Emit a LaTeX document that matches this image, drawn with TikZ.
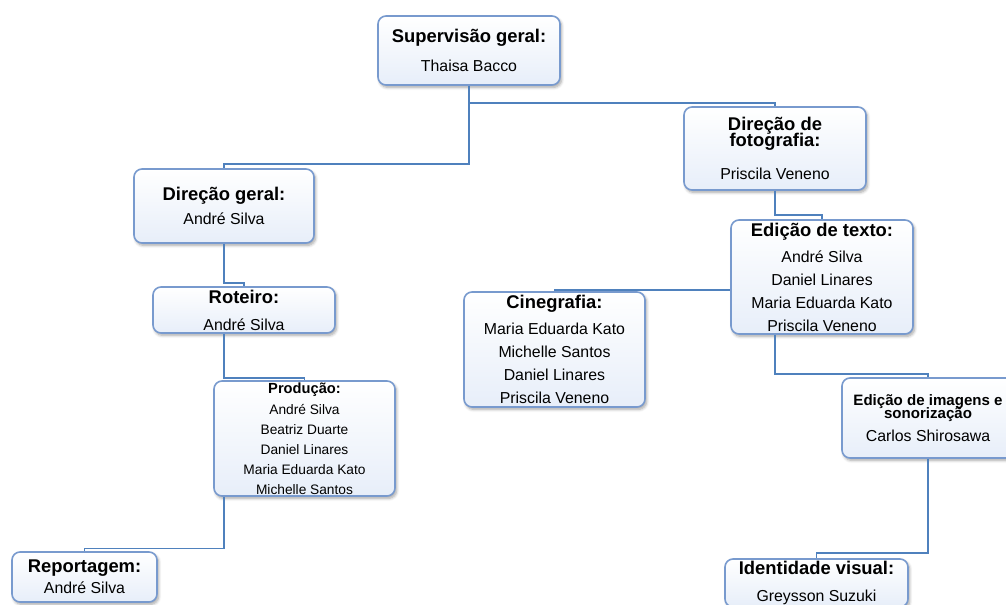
\documentclass[tikz,border=0pt]{standalone}
\usepackage{fontspec}
\setmainfont{Liberation Sans}
\usepackage{tikz}
\usetikzlibrary{positioning}
\usetikzlibrary{shadows.blur}

\definecolor{linkblue}{RGB}{79,129,189}
\definecolor{boxedge}{RGB}{120,154,206}
\definecolor{boxfill}{RGB}{231,238,249}

\newcommand{\hd}[2][13.8]{{\bfseries\fontsize{#1}{#1}\selectfont #2}}

\tikzset{
  orgbox/.style={draw=boxedge, line width=1.2pt, rounded corners=6pt,
    top color=white, bottom color=boxfill, align=center, inner sep=0pt,
    blur shadow={shadow xshift=1.2pt, shadow yshift=-1.8pt, shadow blur steps=6, shadow opacity=35},
    font=\fontsize{11.9}{17.25}\selectfont},
  link/.style={draw=linkblue, line width=1.4pt}
}

\begin{document}
\begin{tikzpicture}[x=0.75pt, y=-0.75pt]
\useasboundingbox (0,0) rectangle (1006,605);

% left branch
\node [orgbox, minimum width=136.5pt, minimum height=51.75pt] (sup) at (469,50.5)
  {\hd{Supervisão geral:}\\[4.5pt] Thaisa Bacco};
\node [orgbox, minimum width=135pt, minimum height=55.5pt] (dgeral) at (224,206)
  {\hd{Direção geral:}\\[0.75pt] André Silva};
\node [orgbox, minimum width=136.5pt, minimum height=34.5pt] (rot) at (244,310)
  {\hd{Roteiro:}\\[3pt] André Silva};
\node [orgbox, minimum width=135.75pt, minimum height=86.25pt,
  font=\fontsize{10.3}{15}\selectfont] (prod) at (304.5,438.5)
  {\hd[11]{Produção:}\\[0.75pt] André Silva\\ Beatriz Duarte\\ Daniel Linares\\ Maria Eduarda Kato\\ Michelle Santos};
\node [orgbox, minimum width=108.75pt, minimum height=37.5pt] (rep) at (84.5,577)
  {\hd{Reportagem:}\\[-1.5pt] André Silva};

% right branch
\node [orgbox, minimum width=136.5pt, minimum height=62.25pt] (dfoto) at (775,148.5)
  {\hd{Direção de}\\[-4.75pt]\hd{fotografia:}\\[7.5pt] Priscila Veneno};
\node [orgbox, minimum width=136.5pt, minimum height=85.5pt] (etexto) at (822,277)
  {\hd{Edição de texto:}\\[2.25pt] André Silva\\ Daniel Linares\\ Maria Eduarda Kato\\ Priscila Veneno};
\node [orgbox, minimum width=135.75pt, minimum height=86.25pt] (cine) at (554.5,349.5)
  {\hd{Cinegrafia:}\\[2.25pt] Maria Eduarda Kato\\ Michelle Santos\\ Daniel Linares\\ Priscila Veneno};
\node [orgbox, minimum width=129pt, minimum height=60pt] (eimg) at (928,418)
  {\hd[11.3]{Edição de imagens e}\\[-7.25pt]\hd[11.3]{sonorização}\\ Carlos Shirosawa};
\node [orgbox, minimum width=137.25pt, minimum height=36pt] (ident) at (816.5,583)
  {\hd{Identidade visual:}\\[3pt] Greysson Suzuki};

% connectors
\draw [link] (sup.south) |- ([yshift=2.25pt]dfoto.north) -- (dfoto.north);
\draw [link] (sup.south) |- ([yshift=3pt]dgeral.north) -- (dgeral.north);
\draw [link] (dgeral.south) |- ([yshift=2.25pt]rot.north) -- (rot.north);
\draw [link] (rot.south -| dgeral.south) |- ([yshift=1.5pt]prod.north) -- (prod.north);
\draw [link] (prod.south -| dgeral.south) |- ([yshift=2pt]rep.north) -- (rep.north);
\draw [link] (dfoto.south) |- ([yshift=3pt]etexto.north) -- (etexto.north);
\draw [link] (cine.north) |- ([yshift=-10pt]etexto.west);
\draw [link] (etexto.south -| dfoto.south) |- ([yshift=2.25pt]eimg.north) -- (eimg.north);
\draw [link] (eimg.south) |- ([yshift=4pt]ident.north) -- (ident.north);

\end{tikzpicture}
\end{document}
